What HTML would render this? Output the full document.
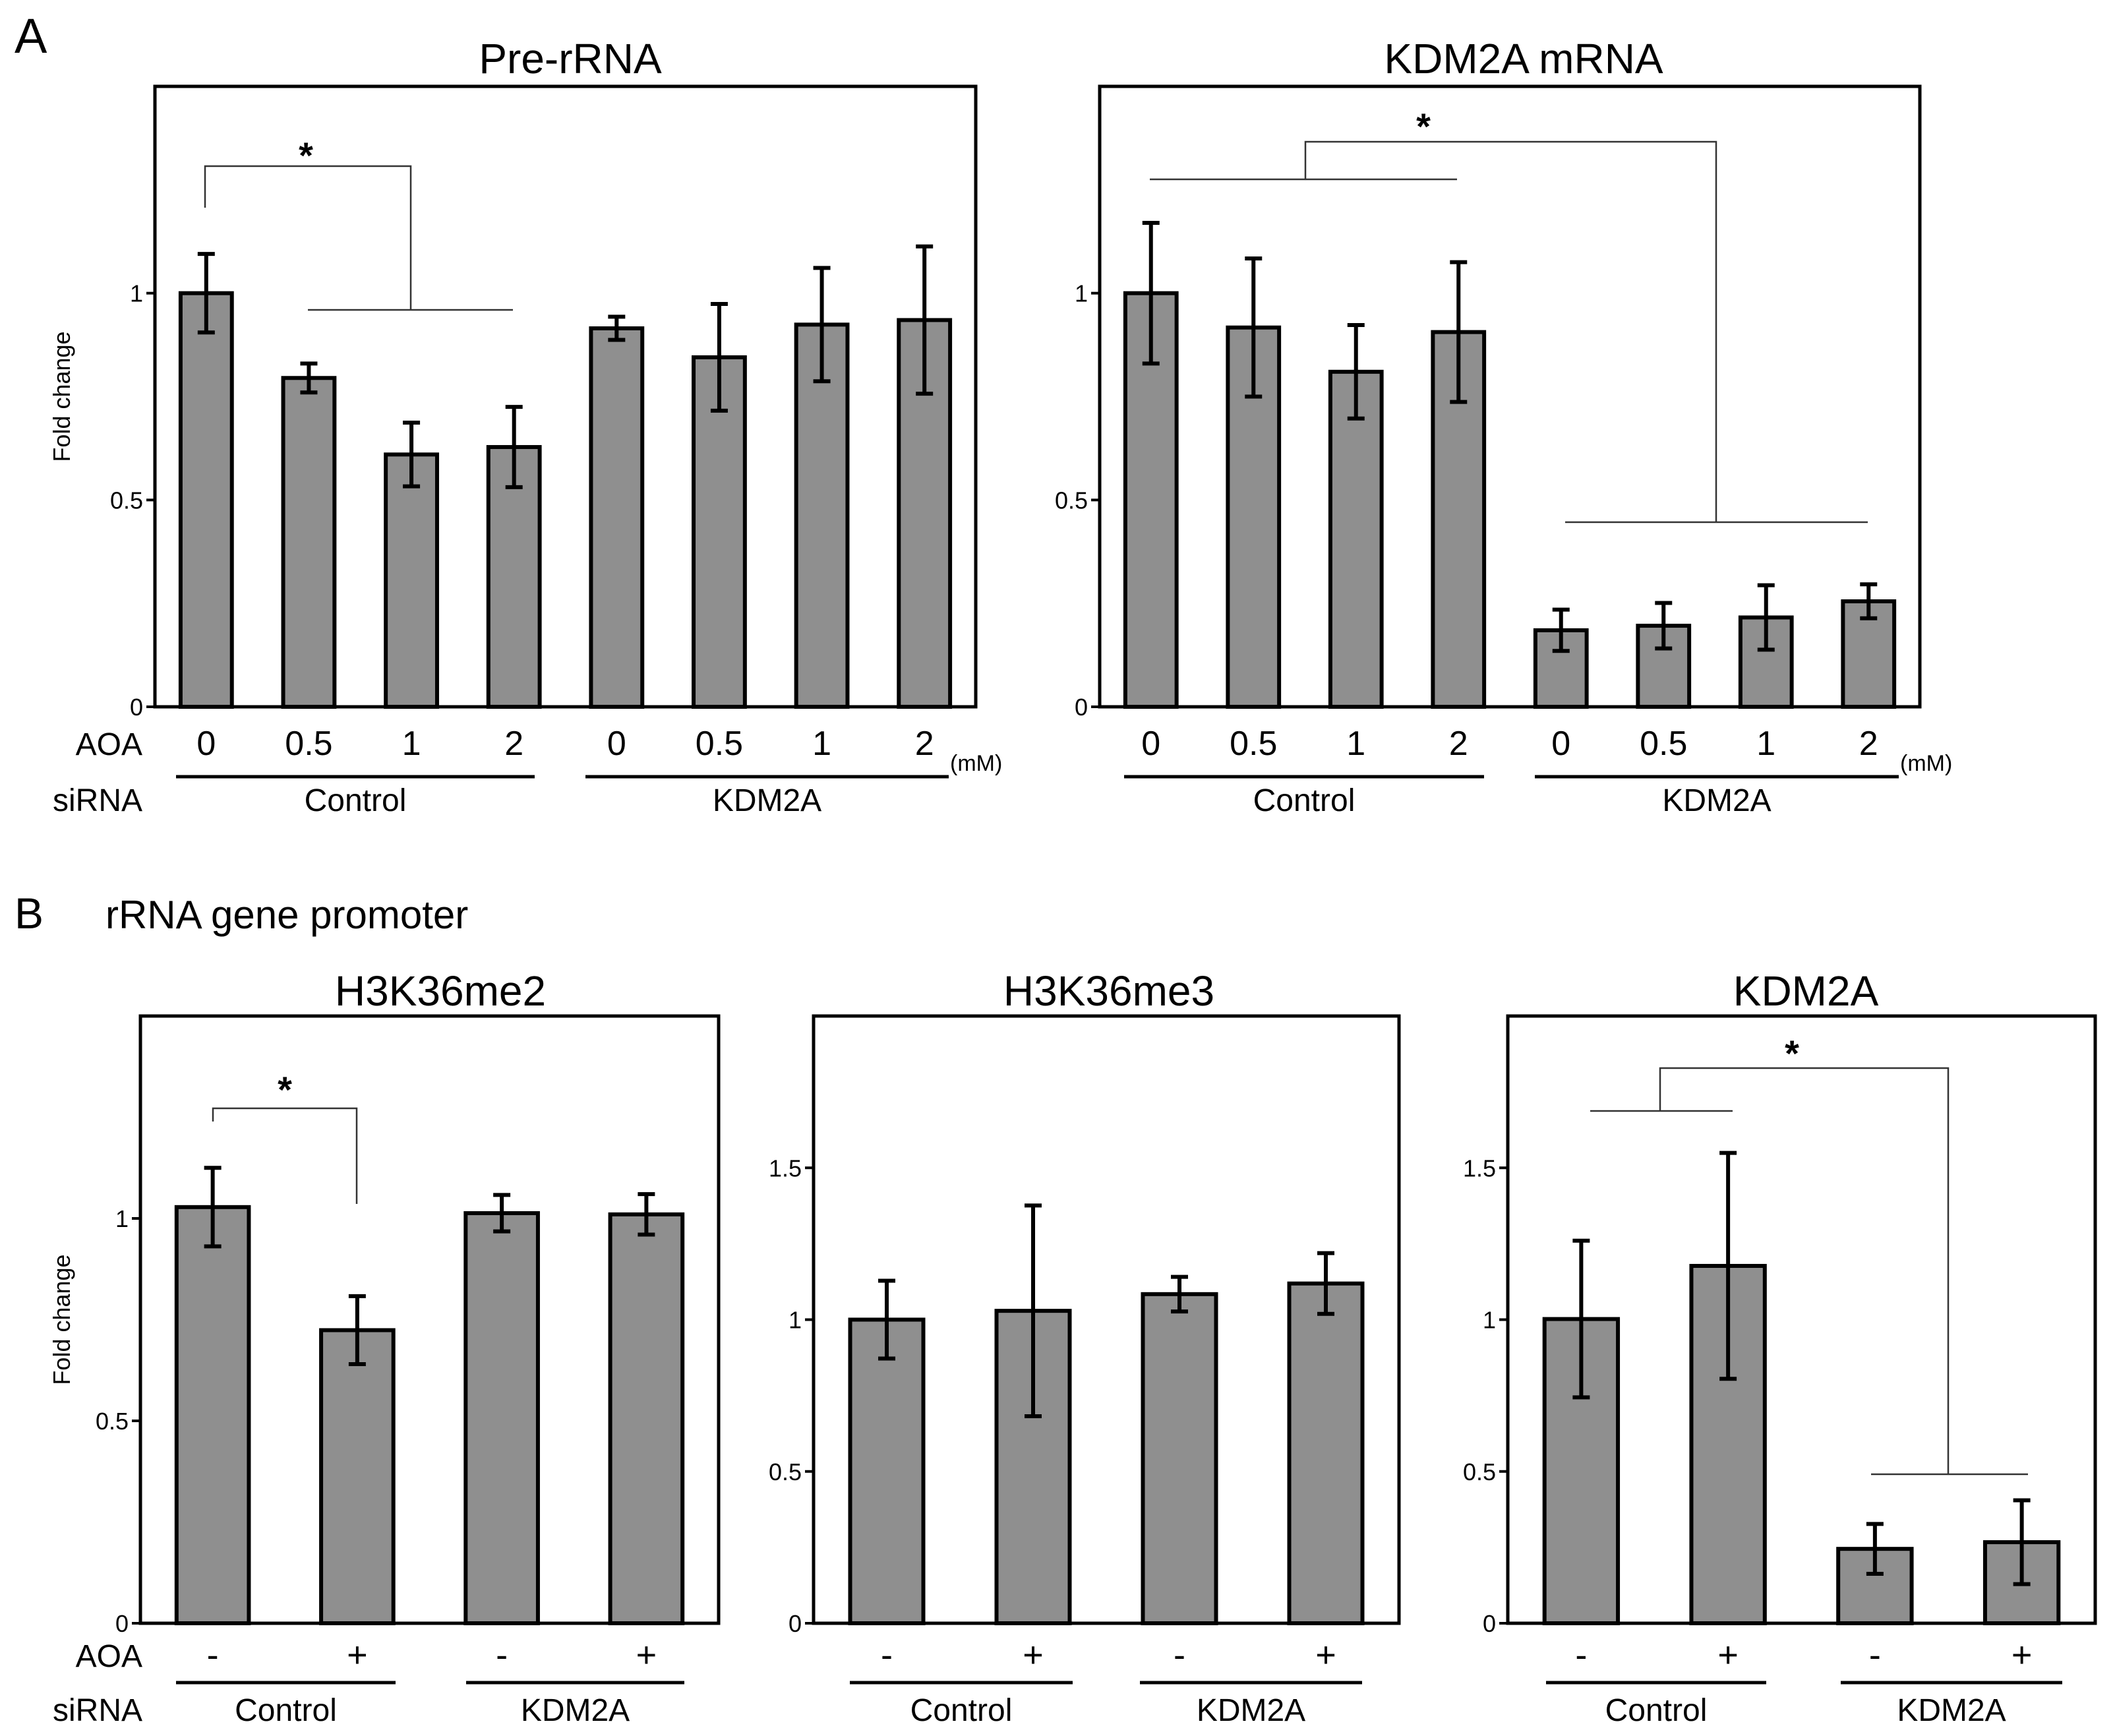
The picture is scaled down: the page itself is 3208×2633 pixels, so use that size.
<!DOCTYPE html>
<html><head><meta charset="utf-8"><style>
html,body{margin:0;padding:0;background:#fff;}
svg{display:block;font-family:"Liberation Sans",Arial,sans-serif;}
</style></head>
<body>
<svg id="fig" width="3208" height="2633" viewBox="0 0 3208 2633" xmlns="http://www.w3.org/2000/svg">
<rect width="3208" height="2633" fill="#fff"/>
<text x="22" y="80" font-size="74">A</text>
<text x="22" y="1408" font-size="66">B</text>
<text x="160" y="1408" font-size="60">rRNA gene promoter</text>
</svg>
<script>
// ---- data ----
const aCategories = ["0","0.5","1","2","0","0.5","1","2"];
const aGroups = ["Control","KDM2A"];
const aTicks = [0, 0.5, 1];
const preValues = [1.0, 0.795, 0.61, 0.628, 0.915, 0.845, 0.924, 0.935];
const preErrors = [0.095, 0.035, 0.077, 0.097, 0.028, 0.129, 0.137, 0.178];
const kdmMrnaValues = [1.0, 0.917, 0.81, 0.906, 0.185, 0.196, 0.216, 0.255];
const kdmMrnaErrors = [0.17, 0.167, 0.113, 0.169, 0.05, 0.055, 0.078, 0.041];
const bCategories = ["-","+","-","+"];
const bGroups = ["Control","KDM2A"];
const b1Ticks = [0, 0.5, 1];
const b23Ticks = [0, 0.5, 1, 1.5];
const me2Values = [1.028, 0.724, 1.013, 1.01];
const me2Errors = [0.097, 0.084, 0.045, 0.05];
const me3Values = [1.0, 1.029, 1.084, 1.119];
const me3Errors = [0.128, 0.347, 0.057, 0.1];
const kdmChipValues = [1.002, 1.177, 0.245, 0.267];
const kdmChipErrors = [0.258, 0.372, 0.082, 0.138];

const NS = "http://www.w3.org/2000/svg";
const svg = document.getElementById("fig");
function el(tag, attrs, parent, txt) {
  const e = document.createElementNS(NS, tag);
  for (const k in attrs) e.setAttribute(k, attrs[k]);
  if (txt !== undefined) e.textContent = txt;
  (parent || svg).appendChild(e);
  return e;
}

function panel(cfg) {
  const g = el("g", {});
  
  
  const L = cfg.left, R = cfg.right, T = cfg.top, B = cfg.bottom;
  const y = v => B - (v / cfg.ymax) * (B - T);
  const n = cfg.values.length;
  const step = (R - L) / n;
  const x = i => L + step * (i + 0.5);
  const bw = step * 0.5;
  const t = el("text", {x: cfg.titleX, y: cfg.titleY, "font-size": 64, "text-anchor": "middle"}, g, cfg.title);
  
  
  const fr = el("rect", {x: L, y: T, width: R - L, height: B - T, fill: "none", stroke: "#000", "stroke-width": 5}, g);
  
  
  cfg.ticks.forEach(v => {
    const tk = el("line", {x1: L - 13, x2: L, y1: y(v), y2: y(v), stroke: "#000", "stroke-width": 4}, g);
    
    
    const tl = el("text", {x: L - 18, y: y(v) + 13, "font-size": 36, "text-anchor": "end"}, g, String(v));
    
    
  });
  if (cfg.ylabel) {
    const yl = el("text", {x: 0, y: 0, "font-size": 36, "text-anchor": "middle", transform: `translate(${cfg.ylabelX},${(T+B)/2}) rotate(-90)`}, g, "Fold change");
    
    
  }
  cfg.values.forEach((v, i) => {
    const r = el("rect", {x: x(i) - bw / 2, y: y(v), width: bw, height: B - y(v), fill: "#8f8f8f", stroke: "#000", "stroke-width": 6}, g);
    
    
    const e = cfg.errors[i];
    const eb = el("path", {d: `M${x(i)},${y(v+e)}V${y(v-e)}M${x(i)-13},${y(v+e)}H${x(i)+13}M${x(i)-13},${y(v-e)}H${x(i)+13}`, stroke: "#000", "stroke-width": 6, fill: "none"}, g);
    
    
  });
  if (cfg.bracket) {
    const br = el("path", {d: cfg.bracket, stroke: "#333", "stroke-width": 2.5, fill: "none"}, g);
    
    
    const st = el("text", {x: cfg.star[0], y: cfg.star[1], "font-size": 56, "font-weight": "bold", "text-anchor": "middle"}, g, "*");
    
    
  }
  cfg.cats.forEach((c, i) => {
    const cl = el("text", {x: x(i), y: cfg.catY, "font-size": cfg.pm ? 54 : 52, "text-anchor": "middle"}, g, c);
    
    
  });
  cfg.groups.forEach((gname, k) => {
    const ul = el("line", {x1: cfg.underlines[k][0], x2: cfg.underlines[k][1], y1: cfg.ulY, y2: cfg.ulY, stroke: "#000", "stroke-width": 5}, g);
    
    
    const gl = el("text", {x: (cfg.underlines[k][0] + cfg.underlines[k][1]) / 2, y: cfg.grpY, "font-size": 48, "text-anchor": "middle"}, g, gname);
    
    
  });
  if (cfg.unit) {
    const u = el("text", {x: cfg.unit, y: cfg.catY + 24, "font-size": 34}, g, "(mM)");
    
    
  }
  if (cfg.rowLabels) {
    const a = el("text", {x: 216, y: cfg.catY, "font-size": 48, "text-anchor": "end"}, g, "AOA");
    
    
    const s = el("text", {x: 216, y: cfg.grpY, "font-size": 48, "text-anchor": "end"}, g, "siRNA");
    
    
  }
}

panel({name: "pre-rrna-chart", title: "Pre-rRNA", titleX: 865, titleY: 111, left: 235, right: 1480, top: 131, bottom: 1072, ymax: 1.5,
  ticks: aTicks, ylabel: true, ylabelX: 106, values: preValues, errors: preErrors, cats: aCategories, groups: aGroups,
  underlines: [[267, 811], [888, 1439]], catY: 1145, ulY: 1178, grpY: 1230, unit: 1441, rowLabels: true,
  bracket: `M311,315V252H623V470M467,470H778`, star: [464, 255]});

panel({name: "kdm2a-mrna-chart", title: "KDM2A mRNA", titleX: 2311, titleY: 111, left: 1668, right: 2912, top: 131, bottom: 1072, ymax: 1.5,
  ticks: aTicks, ylabel: false, values: kdmMrnaValues, errors: kdmMrnaErrors, cats: aCategories, groups: aGroups,
  underlines: [[1705, 2251], [2328, 2880]], catY: 1145, ulY: 1178, grpY: 1230, unit: 2882, rowLabels: false,
  bracket: `M1744,272H2210M1980,272V215H2603V792M2374,792H2833`, star: [2159, 211]});

panel({name: "h3k36me2-chart", title: "H3K36me2", titleX: 668, titleY: 1525, left: 213, right: 1090, top: 1541, bottom: 2462, ymax: 1.5,
  ticks: b1Ticks, ylabel: true, ylabelX: 106, values: me2Values, errors: me2Errors, cats: bCategories, groups: bGroups, pm: true,
  underlines: [[267, 600], [707, 1038]], catY: 2528, ulY: 2552, grpY: 2610, rowLabels: true,
  bracket: `M323,1701V1681H541V1826`, star: [432, 1672]});

panel({name: "h3k36me3-chart", title: "H3K36me3", titleX: 1682, titleY: 1525, left: 1234, right: 2122, top: 1541, bottom: 2462, ymax: 2.0,
  ticks: b23Ticks, ylabel: false, values: me3Values, errors: me3Errors, cats: bCategories, groups: bGroups, pm: true,
  underlines: [[1289, 1627], [1729, 2066]], catY: 2528, ulY: 2552, grpY: 2610, rowLabels: false,
  bracket: null, star: null});

panel({name: "kdm2a-chip-chart", title: "KDM2A", titleX: 2739, titleY: 1525, left: 2287, right: 3178, top: 1541, bottom: 2462, ymax: 2.0,
  ticks: b23Ticks, ylabel: false, values: kdmChipValues, errors: kdmChipErrors, cats: bCategories, groups: bGroups, pm: true,
  underlines: [[2345, 2679], [2792, 3128]], catY: 2528, ulY: 2552, grpY: 2610, rowLabels: false,
  bracket: `M2412,1685H2628M2518,1685V1620H2955V2236M2838,2236H3076`, star: [2718, 1617]});
</script>
</body></html>
